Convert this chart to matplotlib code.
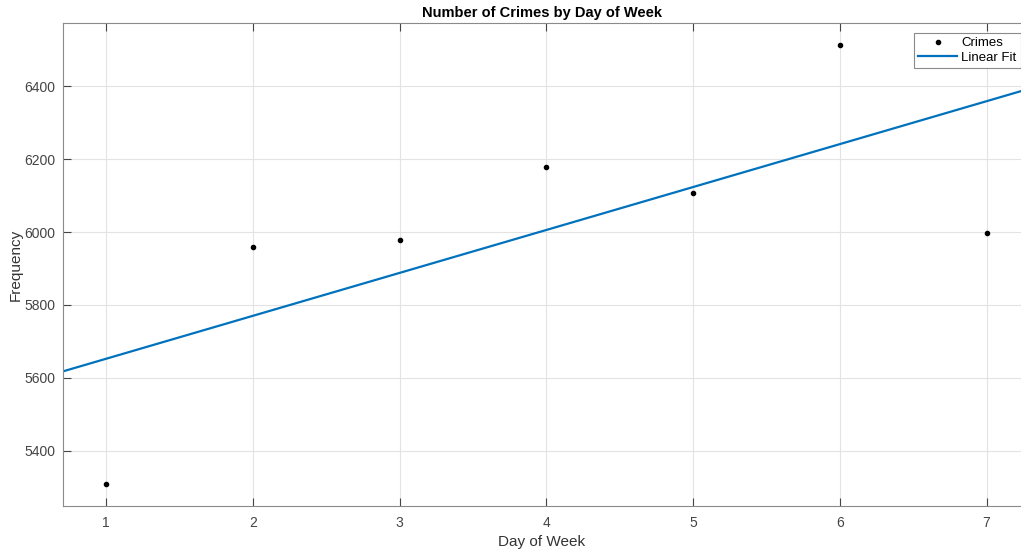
import numpy as np
import matplotlib.pyplot as plt

plt.rcParams['font.family'] = ['Liberation Sans', 'DejaVu Sans']

days = [1, 2, 3, 4, 5, 6, 7]
crimes = [5310, 5958, 5978, 6178, 6107, 6512, 5996]

# least squares line through the daily counts
slope, intercept = np.polyfit(days, crimes, 1)
xlim = (0.707, 7.235)
fit_x = np.array(xlim)
fit_y = slope * fit_x + intercept

fig = plt.figure(figsize=(10.21, 5.5), dpi=100)
ax = fig.add_axes([63 / 1021, 44 / 550, 1 - 63 / 1021, 483 / 550])

ax.plot(days, crimes, 'k.', markersize=6, label='Crimes')
ax.plot(fit_x, fit_y, color='#0072BD', linewidth=1.6, label='Linear Fit')

ax.set_xlim(*xlim)
ax.set_ylim(5249, 6573)
ax.set_xticks(days)
ax.set_yticks([5400, 5600, 5800, 6000, 6200, 6400])

ax.grid(True, color='#e3e3e3', linewidth=0.8)
ax.set_axisbelow(True)
ax.tick_params(direction='in', top=True, length=5.5, colors='#444444',
               labelsize=10)
ax.tick_params(axis='x', pad=7)
ax.tick_params(axis='y', pad=5.5)
for side in ['left', 'bottom', 'top']:
    ax.spines[side].set_color('#8a8a8a')
ax.spines['right'].set_visible(False)

ax.set_xlabel('Day of Week', fontsize=11, color='#333333', labelpad=4)
ax.set_ylabel('Frequency', fontsize=11, color='#333333')
ax.yaxis.set_label_coords(-40 / 958, 0.5)
ax.set_title('Number of Crimes by Day of Week', fontsize=10.5,
             fontweight='bold', pad=4)

leg = ax.legend(loc='upper right', bbox_to_anchor=(0.9995, 0.979),
                fontsize=9.5, fancybox=False, framealpha=1,
                edgecolor='#8a8a8a', borderpad=0.3, labelspacing=0.15,
                handlelength=3.0, handletextpad=0.3, borderaxespad=0)
leg.get_frame().set_linewidth(0.8)

plt.savefig('out.png', dpi=100)
